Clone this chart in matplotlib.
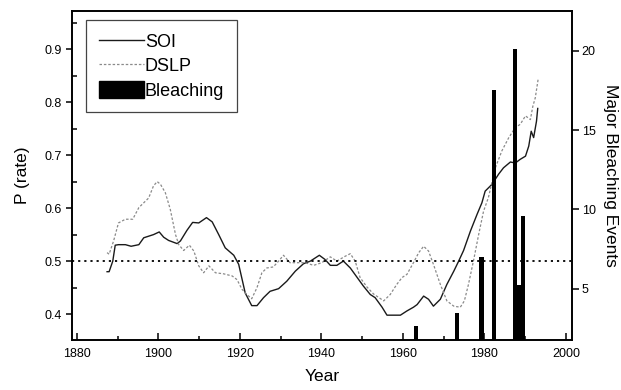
import numpy as np
import matplotlib
matplotlib.use("Agg")
import matplotlib.pyplot as plt
from matplotlib.ticker import MultipleLocator
from matplotlib.lines import Line2D
from matplotlib.patches import Patch

plt.rcParams["font.family"] = ["Liberation Sans", "DejaVu Sans"]

# ---- data ----
soi_year = [1887.4, 1887.9, 1888.8, 1889.4, 1890.2, 1891.9, 1893.3, 1895.2, 1896.4,
            1897.6, 1898.8, 1900.2, 1901.3, 1902.5, 1904.6, 1905.4, 1907.0, 1908.4,
            1909.9, 1911.8, 1913.2, 1914.8, 1916.4, 1918.5, 1919.7, 1921.3, 1922.9,
            1924.2, 1925.8, 1927.4, 1929.5, 1931.5, 1933.6, 1935.6, 1937.3, 1939.5,
            1940.9, 1942.2, 1943.8, 1945.4, 1947.1, 1948.7, 1950.3, 1952.0, 1953.2,
            1954.9, 1956.1, 1957.7, 1959.4, 1961.0, 1962.6, 1963.5, 1965.1, 1966.3,
            1967.5, 1969.2, 1970.8, 1972.5, 1973.7, 1974.9, 1976.6, 1978.2, 1979.4,
            1980.2, 1981.9, 1983.5, 1984.7, 1986.4, 1987.6, 1988.8, 1990.1, 1990.9,
            1991.5, 1992.1, 1992.8, 1993.1]
soi_p = [0.480, 0.480, 0.500, 0.530, 0.531, 0.531, 0.528, 0.531, 0.544,
         0.547, 0.550, 0.555, 0.545, 0.539, 0.533, 0.538, 0.558, 0.573,
         0.572, 0.582, 0.574, 0.550, 0.525, 0.511, 0.494, 0.440, 0.416,
         0.416, 0.431, 0.443, 0.448, 0.462, 0.481, 0.495, 0.500, 0.511,
         0.503, 0.492, 0.492, 0.500, 0.487, 0.470, 0.453, 0.437, 0.431,
         0.413, 0.398, 0.398, 0.398, 0.406, 0.413, 0.418, 0.434, 0.428,
         0.415, 0.428, 0.456, 0.481, 0.500, 0.520, 0.557, 0.588, 0.610,
         0.632, 0.645, 0.664, 0.676, 0.687, 0.685, 0.692, 0.698, 0.717,
         0.745, 0.733, 0.764, 0.788]

dslp_year = [1887.4, 1887.9, 1889.0, 1890.2, 1891.9, 1893.7, 1895.2, 1896.4, 1897.6,
             1898.8, 1899.7, 1900.5, 1901.7, 1902.9, 1904.2, 1905.0, 1906.2, 1907.6,
             1908.7, 1909.9, 1911.1, 1912.4, 1914.0, 1916.0, 1918.1, 1919.3, 1920.5,
             1921.7, 1922.9, 1924.2, 1925.4, 1926.6, 1928.2, 1929.5, 1930.7, 1932.3,
             1934.0, 1936.0, 1938.1, 1940.1, 1942.2, 1943.8, 1945.8, 1947.1, 1948.3,
             1949.5, 1951.2, 1952.8, 1955.3, 1956.9, 1958.5, 1959.8, 1961.0, 1962.6,
             1963.9, 1965.1, 1966.3, 1967.5, 1969.2, 1970.8, 1972.5, 1974.1, 1975.1,
             1976.1, 1977.4, 1978.6, 1979.8, 1981.0, 1982.7, 1984.3, 1986.0, 1987.6,
             1988.8, 1990.1, 1991.3, 1991.9, 1992.5, 1993.2]
dslp_p = [0.516, 0.513, 0.538, 0.572, 0.579, 0.579, 0.601, 0.610, 0.619,
          0.642, 0.650, 0.645, 0.629, 0.598, 0.550, 0.531, 0.520, 0.530,
          0.519, 0.491, 0.478, 0.491, 0.478, 0.476, 0.472, 0.465, 0.447,
          0.437, 0.429, 0.450, 0.478, 0.487, 0.489, 0.500, 0.511, 0.497,
          0.497, 0.497, 0.492, 0.497, 0.508, 0.500, 0.509, 0.514, 0.500,
          0.469, 0.451, 0.438, 0.425, 0.437, 0.456, 0.469, 0.475, 0.497,
          0.516, 0.528, 0.519, 0.494, 0.456, 0.425, 0.415, 0.413, 0.425,
          0.456, 0.503, 0.550, 0.594, 0.620, 0.676, 0.708, 0.733, 0.752,
          0.758, 0.774, 0.767, 0.792, 0.808, 0.843]

bleach_year = [1963.3, 1973.4, 1979.3, 1982.4, 1987.5, 1988.5, 1989.5]
bleach_events = [2.65, 3.5, 7.0, 17.5, 20.1, 5.25, 9.6]

# ---- figure ----
fig = plt.figure(figsize=(6.21, 3.9), dpi=100)
ax = fig.add_axes([0.116, 0.128, 0.805, 0.844])
ax2 = ax.twinx()

ax.plot(soi_year, soi_p, color="#1a1a1a", lw=1.0)
ax.plot(dslp_year, dslp_p, color="#8a8a8a", lw=0.9, ls=(0, (2, 1.5)))
ax.axhline(0.5, color="black", lw=1.3, ls=(0, (1.2, 2.2)))

ax2.bar(bleach_year, bleach_events, width=1.0, color="black")

ax.set_xlim(1878.8, 2001.5)
ax.set_ylim(0.351, 0.972)
ax2.set_ylim(1.77, 22.5)

ax.xaxis.set_major_locator(MultipleLocator(20))
ax.xaxis.set_minor_locator(MultipleLocator(10))
ax.yaxis.set_major_locator(MultipleLocator(0.1))
ax.yaxis.set_minor_locator(MultipleLocator(0.05))
ax2.yaxis.set_major_locator(MultipleLocator(5))
ax2.yaxis.set_minor_locator(plt.NullLocator())

ax.tick_params(axis="x", which="major", direction="in", length=5, width=1.1,
               labelsize=9, pad=6)
ax.tick_params(axis="x", which="minor", direction="in", length=3, width=1.1)
ax.tick_params(axis="y", which="major", direction="out", length=4, width=1.1,
               labelsize=9)
ax.tick_params(axis="y", which="minor", direction="in", length=3.5, width=1.1)
ax2.tick_params(axis="y", which="major", direction="out", length=5, width=1.1,
                labelsize=9, pad=2)
ax.set_yticks([0.4, 0.5, 0.6, 0.7, 0.8, 0.9])
ax.set_yticklabels(["0.4", "0.5", "0.6", "0.7", "0.8", "0.9"])

for a in (ax, ax2):
    for s in a.spines.values():
        s.set_linewidth(1.2)

ax.set_xlabel("Year", fontsize=12.5, labelpad=6)
ax.set_ylabel("P (rate)", fontsize=12.5, labelpad=10)
ax2.set_ylabel("Major Bleaching Events", fontsize=12.5, rotation=270, labelpad=16)

handles = [Line2D([], [], color="#1a1a1a", lw=1.0),
           Line2D([], [], color="#8a8a8a", lw=0.9, ls=(0, (2, 1.5))),
           Patch(facecolor="black", edgecolor="black")]
leg = ax2.legend(handles, ["SOI", "DSLP", "Bleaching"], loc="upper left",
                 bbox_to_anchor=(0.028, 0.973), borderaxespad=0, fontsize=13,
                 fancybox=False, handlelength=2.5, handleheight=1.05,
                 handletextpad=0.05, labelspacing=0.32, borderpad=0.7,
                 framealpha=1)
leg.get_frame().set_edgecolor("#444444")
leg.get_frame().set_linewidth(0.9)

fig.savefig("out.png", dpi=100)
